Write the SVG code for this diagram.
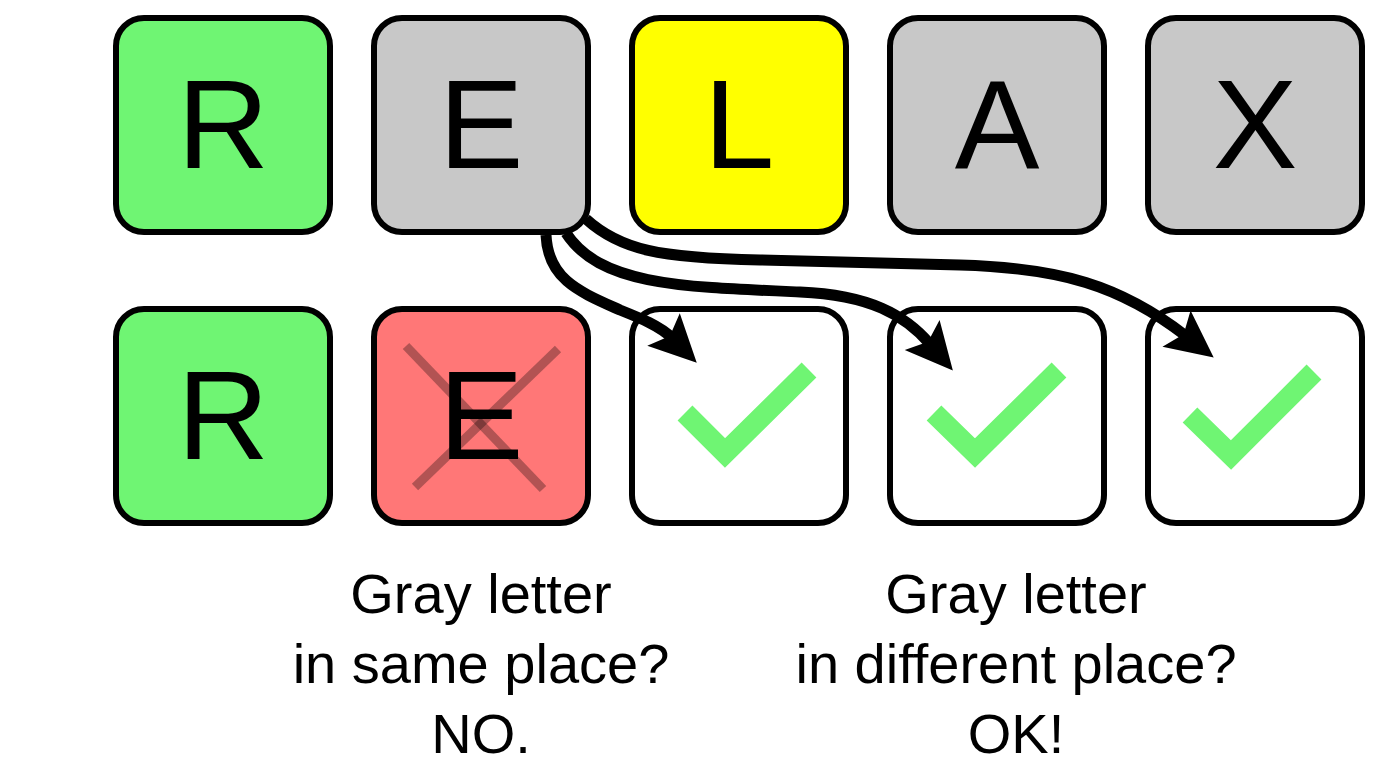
<svg xmlns="http://www.w3.org/2000/svg" width="1376" height="774" viewBox="0 0 1376 774">
  <style>
    .tile { stroke: #000; stroke-width: 6; }
    .green { fill: #6FF573; }
    .gray { fill: #C8C8C8; }
    .yellow { fill: #FFFF00; }
    .red { fill: #FF7777; }
    .white { fill: #FFFFFF; }
    .letter { font-family: "Liberation Sans", Arial, Helvetica, sans-serif; font-size: 127px; fill: #000; text-anchor: middle; }
    .caption { font-family: "Liberation Sans", Arial, Helvetica, sans-serif; font-size: 56px; fill: #000; text-anchor: middle; }
    .check { fill: none; stroke: #6FF573; stroke-width: 21; stroke-linecap: butt; stroke-linejoin: miter; }
    .cross { stroke: #000; stroke-opacity: 0.3; stroke-width: 9; stroke-linecap: butt; }
    .conn { fill: none; stroke: #000; stroke-width: 11; marker-end: url(#ah); }
  </style>
  <defs>
    <marker id="ah" markerUnits="userSpaceOnUse" markerWidth="50" markerHeight="50" viewBox="0 -25 50 50" refX="12" refY="0" orient="auto" overflow="visible">
      <path d="M0,-23 L47,0 L0,23 L9,0 Z" fill="#000"/>
    </marker>
  </defs>
  <rect width="1376" height="774" fill="#FFFFFF"/>

  <!-- Top row -->
  <g id="top-R">
    <rect class="tile green" x="116" y="18" width="214" height="214" rx="28"/>
    <text class="letter" x="223" y="168">R</text>
  </g>
  <g id="top-E">
    <rect class="tile gray" x="374" y="18" width="214" height="214" rx="28"/>
    <text class="letter" x="481" y="168">E</text>
  </g>
  <g id="top-L">
    <rect class="tile yellow" x="632" y="18" width="214" height="214" rx="28"/>
    <text class="letter" x="739" y="168">L</text>
  </g>
  <g id="top-A">
    <rect class="tile gray" x="890" y="18" width="214" height="214" rx="28"/>
    <text class="letter" x="997" y="168">A</text>
  </g>
  <g id="top-X">
    <rect class="tile gray" x="1148" y="18" width="214" height="214" rx="28"/>
    <text class="letter" x="1255" y="168">X</text>
  </g>

  <!-- Bottom row -->
  <g id="bottom-R">
    <rect class="tile green" x="116" y="309" width="214" height="214" rx="28"/>
    <text class="letter" x="223" y="459">R</text>
  </g>
  <g id="bottom-E">
    <rect class="tile red" x="374" y="309" width="214" height="214" rx="28"/>
    <text class="letter" x="481" y="459">E</text>
    <line class="cross" x1="406" y1="346" x2="543" y2="489"/>
    <line class="cross" x1="558" y1="349" x2="415" y2="487"/>
  </g>
  <g id="bottom-3">
    <rect class="tile white" x="632" y="309" width="214" height="214" rx="28"/>
    <polyline class="check" points="685,413 725,453 809,370"/>
  </g>
  <g id="bottom-4">
    <rect class="tile white" x="890" y="309" width="214" height="214" rx="28"/>
    <polyline class="check" points="934,413 975,453 1059,370"/>
  </g>
  <g id="bottom-5">
    <rect class="tile white" x="1148" y="309" width="214" height="214" rx="28"/>
    <polyline class="check" points="1190,415 1231,455 1314,372"/>
  </g>

  <!-- Connectors -->
  <g id="connectors">
    <path class="conn" d="M546,235 C548,280 580,292 620,310 C640,318 660,326 672,338"/>
    <path class="conn" d="M566,233 C600,285 680,287 800,292 C870,295 905,315 930,344"/>
    <path class="conn" d="M586,219 C620,250 660,258 760,260 L960,265 C1060,268 1120,285 1186,336"/>
  </g>

  <!-- Captions -->
  <g id="caption-left">
    <text class="caption" x="481" y="613">Gray letter</text>
    <text class="caption" x="481" y="683">in same place?</text>
    <text class="caption" x="481" y="753">NO.</text>
  </g>
  <g id="caption-right">
    <text class="caption" x="1016" y="613">Gray letter</text>
    <text class="caption" x="1016" y="683">in different place?</text>
    <text class="caption" x="1016" y="753">OK!</text>
  </g>
</svg>
